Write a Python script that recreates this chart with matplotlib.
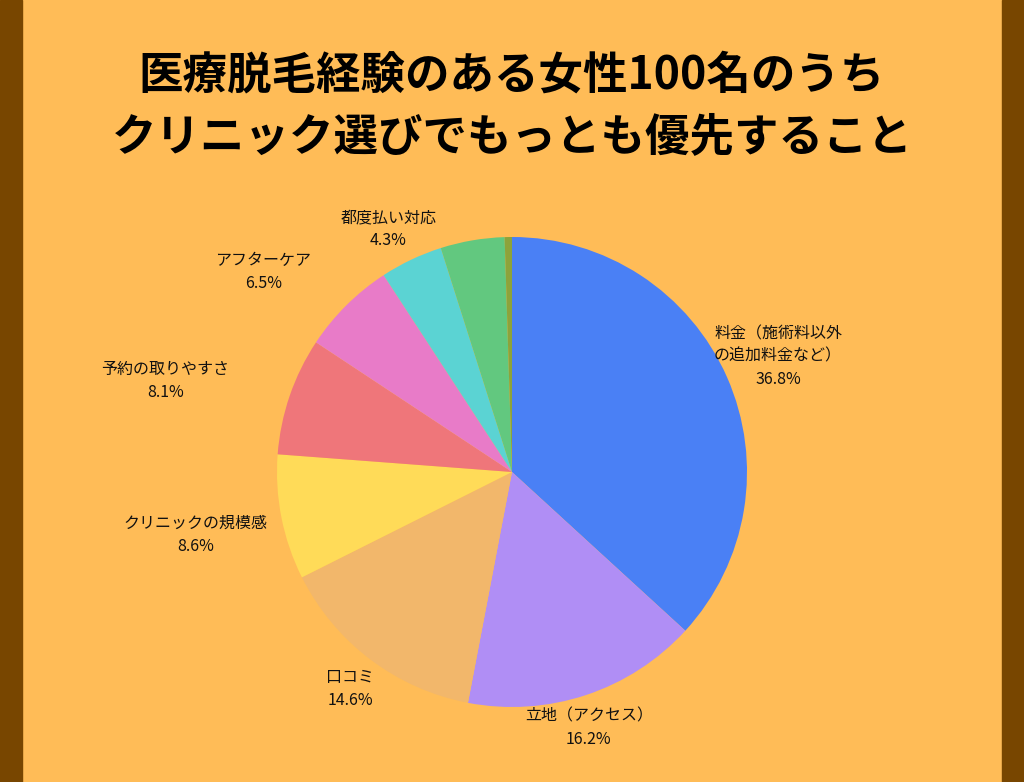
import matplotlib
matplotlib.use("Agg")
import matplotlib.pyplot as plt
import numpy as np

plt.rcParams['font.family'] = ['Noto Sans CJK JP', 'DejaVu Sans']

labels = ["料金（施術料以外\nの追加料金など）", "立地（アクセス）", "口コミ", "クリニックの規模感",
          "予約の取りやすさ", "アフターケア", "都度払い対応", "", ""]
values = [36.8, 16.2, 14.6, 8.6, 8.1, 6.5, 4.3, 4.4, 0.5]
pct_text = ["36.8%", "16.2%", "14.6%", "8.6%", "8.1%", "6.5%", "4.3%", "", ""]
colors = ["#4A80F5", "#B08EF5", "#F2B76B", "#FFDB58", "#EF767A", "#E87BC8", "#5BD3D3", "#62C87F", "#8DA33B"]
# label placement tweaks (pixels)
label_dx = [8, -12, 8, -40, -80, -50, -3, 0, 0]
label_dy = [2, 12, 8, -8, 0, 0, -12, 0, 0]

fig = plt.figure(figsize=(10.24, 7.82), dpi=100)
fig.patch.set_facecolor("#FFBC57")
ax = fig.add_axes([0, 0, 1, 1])
ax.add_patch(plt.Rectangle((0, 0), 22, 782, color="#784600"))
ax.add_patch(plt.Rectangle((1002, 0), 22, 782, color="#784600"))

cx, cy, r = 512, 310, 235
ax.pie(values, colors=colors, startangle=90, counterclock=False, center=(cx, cy), radius=r,
       wedgeprops=dict(linewidth=0), frame=True)
ax.set_xlim(0, 1024); ax.set_ylim(0, 782); ax.axis("off")

cum = 0
tot = sum(values)
for lab, v, p, dx, dy in zip(labels, values, pct_text, label_dx, label_dy):
    mid = (cum + v / 2) / tot * 2 * np.pi
    cum += v
    if not lab:
        continue
    d = 1.2 * r
    x = cx + d * np.sin(mid) + dx
    y = cy + d * np.cos(mid) + dy
    ax.text(x, y, lab + "\n" + p, ha="center", va="center", fontsize=11.5, linespacing=1.45, color="#111111")

fig.text(0.5, 1 - 75 / 782, "医療脱毛経験のある女性100名のうち", ha="center", va="center",
         fontsize=32, fontweight="bold", color="black")
fig.text(0.5, 1 - 137 / 782, "クリニック選びでもっとも優先すること", ha="center", va="center",
         fontsize=32, fontweight="bold", color="black")
fig.savefig("out.png", dpi=100, facecolor=fig.get_facecolor())
